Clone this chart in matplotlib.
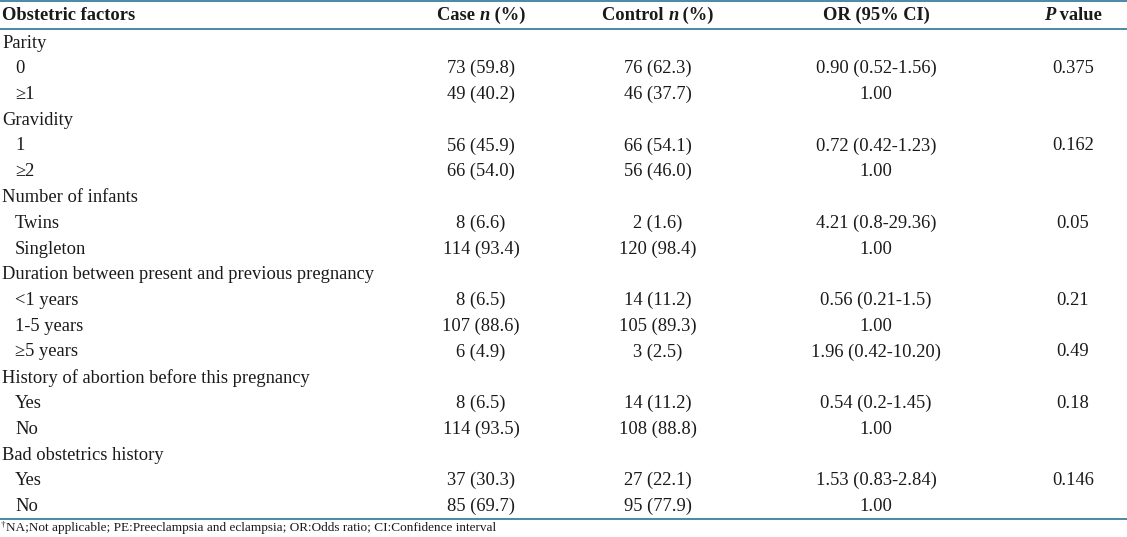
import matplotlib
matplotlib.use("Agg")
import matplotlib.pyplot as plt

# ----- table data -----
row_labels = [
    "Parity", "0", "\u22651",
    "Gravidity", "1", "\u22652",
    "Number of infants", "Twins", "Singleton",
    "Duration between present and previous pregnancy", "<1 years", "1-5 years", "\u22655 years",
    "History of abortion before this pregnancy", "Yes", "No",
    "Bad obstetrics history", "Yes", "No",
]
is_group = [True, False, False, True, False, False, True, False, False,
            True, False, False, False, True, False, False, True, False, False]
case_vals = ["", "73 (59.8)", "49 (40.2)", "", "56 (45.9)", "66 (54.0)", "", "8 (6.6)", "114 (93.4)",
             "", "8 (6.5)", "107 (88.6)", "6 (4.9)", "", "8 (6.5)", "114 (93.5)", "", "37 (30.3)", "85 (69.7)"]
control_vals = ["", "76 (62.3)", "46 (37.7)", "", "66 (54.1)", "56 (46.0)", "", "2 (1.6)", "120 (98.4)",
                "", "14 (11.2)", "105 (89.3)", "3 (2.5)", "", "14 (11.2)", "108 (88.8)", "", "27 (22.1)", "95 (77.9)"]
or_vals = ["", "0.90 (0.52-1.56)", "1.00", "", "0.72 (0.42-1.23)", "1.00", "", "4.21 (0.8-29.36)", "1.00",
           "", "0.56 (0.21-1.5)", "1.00", "1.96 (0.42-10.20)", "", "0.54 (0.2-1.45)", "1.00", "", "1.53 (0.83-2.84)", "1.00"]
p_vals = ["", "0.375", "", "", "0.162", "", "", "0.05", "",
          "", "0.21", "", "0.49", "", "0.18", "", "", "0.146", ""]
footnote = "NA;Not applicable; PE:Preeclampsia and eclampsia; OR:Odds ratio; CI:Confidence interval"

FONT = "Liberation Serif"
FS = 13.3
LINE_COLOR = "#3a7f9e"
TEXT_COLOR = "#1a1a1a"

W, H = 1127, 537
fig = plt.figure(figsize=(W / 100, H / 100), dpi=100)
ax = fig.add_axes([0, 0, 1, 1])
ax.set_xlim(0, W)
ax.set_ylim(H, 0)
ax.axis("off")

col_x = [481, 658, 876, 1073]
header_y = 15
row0_y = 43
row_h = 25.75

renderer = fig.canvas.get_renderer()


def draw_pieces(pieces, cx, y):
    # pieces: list of (text, weight, style); draw centred as one run
    widths = []
    for txt, wt, st in pieces:
        t = ax.text(0, 0, txt, fontsize=FS, family=FONT, weight=wt, style=st)
        bb = t.get_window_extent(renderer)
        widths.append(bb.width)
        t.remove()
    x = cx - sum(widths) / 2
    for (txt, wt, st), w in zip(pieces, widths):
        ax.text(x, y, txt, fontsize=FS, family=FONT, weight=wt, style=st,
                ha="left", va="center", color=TEXT_COLOR)
        x += w


# header
ax.text(2, header_y, "Obstetric factors", fontsize=FS, family=FONT, weight="bold",
        ha="left", va="center", color=TEXT_COLOR)
draw_pieces([("Case ", "bold", "normal"), ("n", "bold", "italic"), (" (%)", "bold", "normal")], col_x[0], header_y)
draw_pieces([("Control ", "bold", "normal"), ("n", "bold", "italic"), (" (%)", "bold", "normal")], col_x[1], header_y)
draw_pieces([("OR (95% CI)", "bold", "normal")], col_x[2], header_y)
draw_pieces([("P", "bold", "italic"), (" value", "bold", "normal")], col_x[3], header_y)

# rows
for i, lab in enumerate(row_labels):
    y = row0_y + i * row_h
    x = 2 if is_group[i] else 15
    ax.text(x, y, lab, fontsize=FS, family=FONT, ha="left", va="center", color=TEXT_COLOR)
    for cx, vals in zip(col_x, [case_vals, control_vals, or_vals, p_vals]):
        if vals[i]:
            ax.text(cx, y, vals[i], fontsize=FS, family=FONT, ha="center", va="center", color=TEXT_COLOR)

# rules
for yy in [1, 29, 519]:
    ax.plot([0, W], [yy, yy], color=LINE_COLOR, lw=1.3, solid_capstyle="butt")

# footnote
ax.text(1, 529, "\u2020", fontsize=6.5, family=FONT, ha="left", va="bottom", color=TEXT_COLOR)
ax.text(6, 528.5, footnote, fontsize=9.5, family=FONT, ha="left", va="center", color=TEXT_COLOR)

fig.savefig("out.png", dpi=100)
